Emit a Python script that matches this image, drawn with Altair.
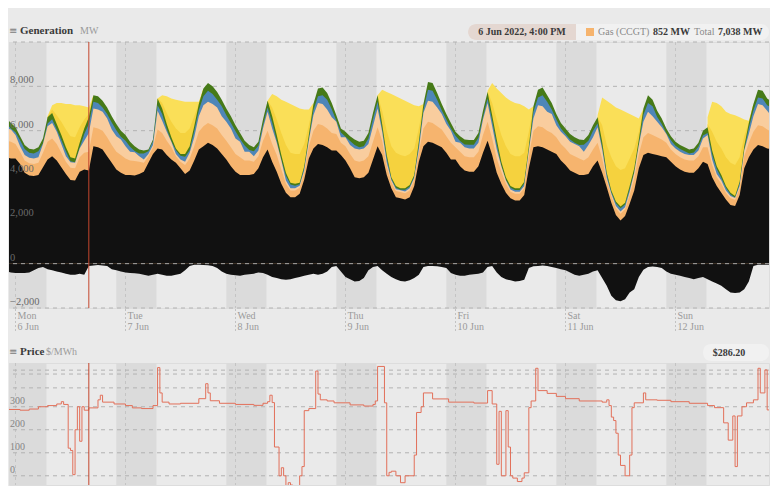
import altair as alt
import pandas as pd

SERIF = "Liberation Serif"
BG = "#EAEAEA"
NIGHT = "#DBDBDB"
GRID = "#B2B2B2"
VGRID = "#C4C4C4"
HOVER = "#C4472E"
PRICE = "#E2705A"

COL_COAL = "#111111"
COL_CCGT = "#F6B46E"
COL_OCGT = "#F9CD9E"
COL_HYDRO = "#4E86B8"
COL_WIND = "#467A18"
COL_SOLAR_U = "#F5D23E"
COL_SOLAR_R = "#FADF58"

BASE = pd.Timestamp("2022-06-06 00:00")          # Mon 6 Jun 2022, midnight
HOURS = list(range(-3, 166))                      # hourly, Sun 21:00 .. Sun 12 Jun 21:00

# ---- generation: top edge of the coal layer (MW) ----
coal_top = [
    4850, 4800, 4750,
    4750, 4500, 4100, 3980, 3950, 4000, 4350, 4700, 4850, 4650, 4350, 4050, 3780, 3750, 4150, 4250, 4200, 5300, 5250, 5150, 4850, 4550, 4250, 4100,
    4000, 4000, 3980, 4050, 4150, 4550, 4950, 5200, 5150, 4900, 4700, 4550, 4300, 4050, 4200, 4650, 5150, 5300, 5450, 5350, 5200, 4950, 4700, 4400,
    4150, 4000, 4000, 4000, 4050, 4300, 4800, 5150, 4600, 4150, 3600, 3200, 3000, 3000, 3150, 3800, 4750, 5200, 5400, 5350, 5250, 5100, 5100, 4900,
    4650, 4300, 3900, 3850, 3900, 4100, 4700, 5300, 4900, 4000, 3400, 3000, 2950, 2900, 3000, 3500, 4600, 5300, 5500, 5450, 5350, 5250, 5000, 4700,
    4700, 4400, 4200, 4150, 4150, 4400, 5000, 5550, 4900, 4100, 3600, 3200, 2950, 2850, 2850, 3100, 4300, 5250, 5300, 5250, 5150, 5050, 4950, 4650,
    4450, 4200, 4100, 4000, 4000, 4050, 4400, 4650, 4100, 3450, 2750, 2200, 1950, 2150, 2700, 3300, 4300, 4900, 5000, 4950, 4900, 4850, 4800, 4600,
    4400, 4250, 4150, 4100, 4100, 4300, 4600, 4500, 3900, 3500, 3200, 2900, 2650, 2600, 3100, 4300, 4800, 5150, 5350, 5300, 5200, 5150,
]
# ---- top edge of all non-solar generation (top of wind layer, MW) ----
nonsolar_top = [
    6750, 6550, 6350,
    6150, 5750, 5350, 5180, 5150, 5250, 5650, 6600, 6800, 6300, 5800, 5250, 4800, 4750, 5450, 6100, 6600, 7600, 7550, 7350, 7050, 6650, 6300, 6000,
    5800, 5500, 5300, 5150, 5100, 5150, 5600, 7450, 7000, 6300, 5700, 5200, 4950, 4950, 5300, 6200, 7200, 7900, 8150, 8000, 7750, 7400, 7000, 6650,
    6250, 5900, 5550, 5350, 5250, 5500, 6500, 7350, 6650, 5800, 4900, 4100, 3650, 3600, 3650, 4400, 5800, 7200, 7900, 7950, 7700, 7250, 6700, 6100,
    5950, 5750, 5600, 5500, 5550, 5900, 6800, 7600, 6300, 4900, 3900, 3500, 3400, 3400, 3550, 4000, 5500, 7200, 8200, 8150, 7700, 7200, 6750, 6350,
    5950, 5750, 5600, 5580, 5580, 5900, 6900, 7750, 6700, 5600, 4600, 3900, 3500, 3400, 3400, 3700, 5300, 7100, 7850, 7950, 7600, 7250, 6750, 6350,
    6100, 5850, 5700, 5600, 5580, 5800, 6250, 6600, 5500, 4100, 3300, 2800, 2580, 2750, 3500, 4300, 5600, 7000, 7600, 7400, 6900, 6550, 6100, 5750,
    5500, 5350, 5250, 5150, 5200, 5450, 6000, 6150, 5100, 4400, 4000, 3500, 3200, 3050, 3700, 5300, 6350, 7200, 7850, 7800, 7450, 7300,
]
# ---- layer thicknesses (MW) ----
ccgt_mw = [
    800, 750, 750,
    650, 550, 550, 550, 550, 550, 650, 800, 800, 750, 650, 550, 550, 550, 650, 750, 850, 850, 850, 850, 850, 800, 800, 800,
    750, 650, 650, 550, 400, 300, 300, 850, 750, 650, 550, 300, 300, 400, 550, 650, 800, 900, 900, 900, 900, 850, 850, 850,
    800, 800, 650, 650, 550, 550, 750, 850, 800, 750, 650, 400, 300, 300, 280, 300, 550, 800, 900, 900, 850, 800, 750, 550,
    650, 650, 750, 750, 750, 750, 800, 850, 650, 400, 280, 280, 280, 280, 300, 280, 400, 800, 900, 900, 850, 800, 750, 750,
    550, 650, 650, 650, 650, 650, 800, 850, 750, 650, 550, 400, 300, 300, 300, 300, 550, 750, 900, 900, 850, 850, 750, 750,
    750, 750, 750, 750, 650, 750, 750, 800, 650, 300, 300, 300, 300, 300, 400, 550, 650, 800, 900, 850, 800, 750, 650, 550,
    550, 550, 550, 550, 550, 550, 650, 750, 550, 400, 400, 300, 300, 280, 300, 550, 650, 800, 900, 900, 850, 800,
]
ocgt_mw = [
    700, 550, 550,
    400, 250, 250, 250, 250, 250, 400, 700, 700, 550, 400, 250, 250, 250, 400, 550, 850, 850, 850, 850, 850, 700, 700, 700,
    550, 400, 400, 250, 150, 100, 100, 850, 550, 400, 250, 100, 100, 150, 250, 400, 700, 950, 950, 950, 950, 850, 850, 850,
    700, 700, 400, 400, 250, 250, 550, 850, 700, 550, 400, 150, 100, 100, 80, 100, 250, 700, 950, 950, 850, 700, 550, 250,
    400, 400, 550, 550, 550, 550, 700, 850, 400, 150, 80, 80, 80, 80, 100, 80, 150, 700, 950, 950, 850, 700, 550, 550,
    250, 400, 400, 400, 400, 400, 700, 850, 550, 400, 250, 150, 100, 100, 100, 100, 250, 550, 950, 950, 850, 850, 550, 550,
    550, 550, 550, 550, 400, 550, 550, 700, 400, 100, 100, 100, 100, 100, 150, 250, 400, 700, 950, 850, 700, 550, 400, 250,
    250, 250, 250, 250, 250, 250, 400, 550, 250, 150, 150, 100, 100, 80, 100, 250, 400, 700, 950, 950, 850, 700,
]
wind_mw = [
    280, 250, 250,
    220, 180, 180, 180, 180, 180, 220, 280, 280, 250, 220, 180, 180, 180, 220, 250, 300, 300, 300, 300, 300, 280, 280, 280,
    250, 220, 220, 180, 130, 80, 80, 300, 250, 220, 180, 80, 80, 130, 180, 220, 280, 350, 350, 350, 350, 300, 300, 300,
    280, 280, 220, 220, 180, 180, 250, 300, 280, 250, 220, 130, 80, 80, 70, 80, 180, 280, 350, 350, 300, 280, 250, 180,
    220, 220, 250, 250, 250, 250, 280, 300, 220, 130, 70, 70, 70, 70, 80, 70, 130, 280, 350, 350, 300, 280, 250, 250,
    180, 220, 220, 220, 220, 220, 280, 300, 250, 220, 180, 130, 80, 80, 80, 80, 180, 250, 350, 350, 300, 300, 250, 250,
    250, 250, 250, 250, 220, 250, 250, 280, 220, 80, 80, 80, 80, 80, 130, 180, 220, 280, 350, 300, 280, 250, 220, 180,
    180, 180, 180, 180, 180, 180, 220, 250, 180, 130, 130, 80, 80, 70, 80, 180, 220, 280, 350, 350, 300, 280,
]
# ---- negative side (exports, MW) ----
exports_mw = [
    -300, -350, -400,
    -420, -420, -420, -400, -300, -200, -150, -250, -300, -350, -400, -450, -500, -500, -450, -500, -100, -80, -60, -80, -100, -250, -300, -350,
    -400, -420, -430, -450, -500, -550, -500, -450, -500, -550, -550, -500, -450, -300, -100, -50, -50, -60, -70, -100, -200, -350, -450, -500,
    -520, -550, -500, -480, -450, -400, -420, -500, -600, -650, -700, -720, -700, -650, -600, -550, -500, -450, -500, -450, -350, -150, -100, -350,
    -600, -700, -800, -780, -650, -300, -150, -100, -300, -450, -600, -700, -780, -800, -750, -650, -500, -150, -100, -100, -120, -150, -200, -420,
    -500, -550, -550, -500, -480, -450, -400, -150, -100, -400, -600, -700, -750, -800, -780, -720, -200, -120, -100, -80, -100, -150, -200, -250,
    -300, -400, -500, -550, -500, -450, -350, -300, -650, -1000, -1450, -1650, -1700, -1600, -1300, -1150, -600, -270, -150, -130, -150, -200, -350, -450,
    -500, -550, -600, -650, -700, -650, -600, -700, -800, -900, -1000, -1150, -1300, -1320, -1300, -1150, -800, -100, -50, -50, -50, -50,
]
# ---- solar, daytime hours 07:00 .. 17:00 of each day ----
solar_days = ["Mon", "Tue", "Wed", "Thu", "Fri", "Sat", "Sun"]
solar_first_hour = 7
solar_total_top = [
    [6650, 7150, 7250, 7250, 7200, 7200, 7150, 7150, 7100, 7040, 7600],
    [7450, 7600, 7550, 7450, 7400, 7350, 7300, 7300, 7300, 7300, 7900],
    [7350, 7650, 7550, 7400, 7300, 7200, 7100, 7000, 6950, 6950, 7250],
    [7600, 7850, 7750, 7650, 7550, 7450, 7350, 7250, 7150, 7100, 7200],
    [7800, 8150, 7900, 7700, 7500, 7350, 7250, 7200, 7100, 6950, 7100],
    [6700, 7500, 7350, 7200, 7050, 6950, 6850, 6750, 6650, 6550, 7000],
    [6600, 7300, 7250, 7100, 6850, 6750, 6700, 6600, 6500, 6450, 7200],
]
solar_utility_mw = [
    [20, 150, 400, 600, 800, 950, 950, 700, 400, 150, 0],
    [0, 250, 500, 700, 900, 950, 950, 800, 450, 40, 0],
    [0, 400, 700, 1000, 1250, 1350, 1350, 1300, 1000, 450, 20],
    [0, 600, 1100, 1400, 1500, 1500, 1450, 1400, 1200, 600, 0],
    [20, 550, 900, 1200, 1400, 1450, 1450, 1450, 1300, 650, 0],
    [40, 750, 1250, 1500, 1600, 1650, 1550, 1250, 900, 350, 0],
    [150, 850, 1100, 1200, 1300, 1350, 1400, 1100, 450, 40, 0],
]
# ---- price ($/MWh), step changes: hours from Mon 00:00 ----
price_hours = [
    -3.5, -1.5, 1.0, 3.0, 5.0, 7.0, 9.0, 10.0, 10.5, 11.5, 12.0, 12.5, 13.0, 13.5, 14.0, 14.5, 15.0, 16.0, 18.0, 18.5, 19.0, 21.5,
    24.0, 25.5, 27.5, 30.0, 31.0, 31.5, 32.0, 33.5, 36.0, 40.0, 41.5, 42.0, 42.5, 44.5,
    48.0, 52.0, 54.0, 55.0, 55.5, 56.0, 56.5, 57.5, 58.0, 58.5, 59.0, 59.5, 60.0, 60.5, 61.5, 62.0, 62.5, 63.0, 64.0, 65.5, 66.0, 66.5, 68.0, 69.5,
    73.0, 76.0, 78.0, 78.5, 79.0, 80.5, 81.0, 81.5, 82.0, 83.0, 84.0, 85.0, 87.0, 87.5, 88.5, 89.0, 91.0, 94.5,
    100.0, 103.0, 104.0, 105.0, 105.5, 106.0, 107.0, 107.5, 108.0, 108.5, 109.5, 110.5, 111.0, 112.0, 112.5, 113.5, 114.0, 116.0, 118.0,
    120.0, 123.0, 128.0, 129.0, 129.5, 130.0, 130.5, 131.0, 131.5, 132.0, 133.0, 134.0, 134.5, 135.0, 137.0, 137.5, 140.0, 143.0,
    147.0, 151.0, 152.5, 154.5, 155.5, 156.5, 157.0, 157.5, 158.5, 159.5, 161.0, 162.0, 162.5, 163.5, 164.0, 165.0,
]
price_values = [
    300, 288, 285, 290, 300, 305, 312, 322, 310, 120, 110, 5, 200, 300, 150, 300, 285, 295, 330, 350, 320, 312,
    305, 295, 292, 305, 470, 360, 320, 312, 315, 335, 400, 360, 326, 315,
    310, 306, 315, 322, 350, 318, 125, 0, 35, 0, -55, -30, -40, -55, -60, 0, 40, 283, 292, 455, 355, 330, 325, 317,
    308, 303, 310, 325, 475, 317, 0, 15, 20, 0, -30, 0, 90, 275, 300, 360, 334, 320,
    316, 370, 312, 50, 280, 0, 283, 125, 0, -10, -25, -10, 13, 296, 325, 467, 370, 358, 345,
    335, 325, 320, 330, 305, 255, 240, 185, 90, 45, 0, 90, 296, 317, 360, 330, 328, 322,
    315, 305, 296, 230, 155, 260, 40, 260, 300, 317, 330, 467, 360, 460, 286.2, 286.2,
]
# night shading and day ticks
night_start = ["2022-06-05 22:00", "2022-06-06 22:00", "2022-06-07 22:00", "2022-06-08 22:00",
               "2022-06-09 22:00", "2022-06-10 22:00", "2022-06-11 22:00"]
night_end = ["2022-06-06 06:45", "2022-06-07 06:45", "2022-06-08 06:45", "2022-06-09 06:45",
             "2022-06-10 06:45", "2022-06-11 06:45", "2022-06-12 06:45"]
day_starts = ["2022-06-06", "2022-06-07", "2022-06-08", "2022-06-09", "2022-06-10", "2022-06-11", "2022-06-12"]
gen_grid_values = [-2000, 0, 2000, 4000, 6000, 8000, 10000]
gen_label_values = [-2000, 0, 2000, 4000, 6000, 8000]
price_grid_values = [0, 100, 200, 300, 382, 442, 459]
price_label_values = [0, 100, 200, 300]
hover_time = "2022-06-06 16:00"

for name, arr in [("coal", coal_top), ("ns", nonsolar_top), ("ccgt", ccgt_mw), ("ocgt", ocgt_mw),
                  ("wind", wind_mw), ("exp", exports_mw)]:
    assert len(arr) == len(HOURS), (name, len(arr))
assert len(price_hours) == len(price_values)


def at(h):
    return BASE + pd.Timedelta(hours=h)


gen = pd.DataFrame({"time": [at(h) for h in HOURS], "coal_top": coal_top, "nonsolar_top": nonsolar_top,
                    "ccgt": ccgt_mw, "ocgt": ocgt_mw, "wind": wind_mw, "exports": exports_mw})
gen["ccgt_top"] = gen["coal_top"] + gen["ccgt"]
gen["ocgt_top"] = gen["ccgt_top"] + gen["ocgt"]
gen["hydro_top"] = gen["nonsolar_top"] - gen["wind"]

rows = []
for d, day in enumerate(solar_days):
    for k, (tot, util) in enumerate(zip(solar_total_top[d], solar_utility_mw[d])):
        h = 24 * d + solar_first_hour + k
        rows.append({"time": at(h), "day": day, "total_top": tot,
                     "utility_top": nonsolar_top[h + 3] + util})
solar = pd.DataFrame(rows)

price = pd.DataFrame({"time": [at(h) for h in price_hours], "price": price_values})
nights = pd.DataFrame({"start": pd.to_datetime(night_start), "end": pd.to_datetime(night_end)})
days = pd.DataFrame({"d": pd.to_datetime(day_starts)})
hover = pd.DataFrame({"t": [pd.Timestamp(hover_time)]})

xscale = alt.Scale(domain=[alt.DateTime(year=2022, month=6, date=5, hours=22, minutes=35),
                           alt.DateTime(year=2022, month=6, date=12, hours=20, minutes=24)])
ygen = alt.Scale(domain=[-2000, 10000], nice=False, zero=False)
yprice = alt.Scale(domain=[-40, 490], nice=False, zero=False)


def xenc(field):
    return alt.X(f"{field}:T", scale=xscale, axis=None)


def night_layer():
    return alt.Chart(nights).mark_rect(color=NIGHT, clip=True).encode(x=xenc("start"), x2="end:T")


def day_rules():
    return alt.Chart(days).mark_rule(color=VGRID, strokeDash=[3, 3], strokeWidth=1).encode(x=xenc("d"))


def hgrid(values, yscale, color=GRID):
    return alt.Chart(pd.DataFrame({"v": values})).mark_rule(color=color, strokeDash=[4, 4], strokeWidth=1).encode(
        y=alt.Y("v:Q", scale=yscale, axis=None))


def area(data, field, color, detail=False):
    enc = {"x": xenc("time"),
           "y": alt.Y(f"{field}:Q", scale=ygen, axis=None, stack=None),
           "y2": alt.datum(0)}
    if detail:
        enc["detail"] = "day:N"
    return alt.Chart(data).mark_area(color=color, clip=True, interpolate="linear").encode(**enc)


def txt(text, x, y, size=10, weight="normal", color="#3A3A3A", align="left", font=SERIF):
    return alt.Chart(pd.DataFrame({"t": [text]})).mark_text(
        align=align, baseline="middle", fontSize=size, fontWeight=weight, color=color, font=font
    ).encode(x=alt.value(x), y=alt.value(y), text="t:N")


def box(x, x2, y, y2, color, radius=0):
    return alt.Chart(pd.DataFrame({"a": [0]})).mark_rect(color=color, cornerRadius=radius).encode(
        x=alt.value(x), x2=alt.value(x2), y=alt.value(y), y2=alt.value(y2))


def hover_rule():
    return alt.Chart(hover).mark_rule(color=HOVER, strokeWidth=1).encode(x=xenc("t"))


def ylabels(values, yscale, color, size, fmt):
    return alt.Chart(pd.DataFrame({"v": values})).mark_text(
        align="left", baseline="alphabetic", dy=-3, font=SERIF, fontSize=size, color=color
    ).encode(y=alt.Y("v:Q", scale=yscale, axis=None), x=alt.value(1), text=alt.Text("v:Q", format=fmt))


# day labels under the generation panel (two lines) and their dashed ticks
day_ticks = alt.Chart(days).mark_rule(color="#C2C2C2", strokeDash=[2, 2], strokeWidth=1).encode(
    x=xenc("d"), y=alt.value(267), y2=alt.value(290))
day_names = alt.Chart(days).mark_text(align="left", baseline="middle", dx=2, font=SERIF, fontSize=10,
                                      color="#9A9A9A").encode(
    x=xenc("d"), y=alt.value(274), text=alt.Text("d:T", format="%a"))
day_dates = alt.Chart(days).mark_text(align="left", baseline="middle", dx=2, font=SERIF, fontSize=10,
                                      color="#9A9A9A").encode(
    x=xenc("d"), y=alt.value(285), text=alt.Text("d:T", format="%-d %b"))

bound = alt.Chart(pd.DataFrame({"a": [0]})).mark_rule(opacity=0, strokeWidth=1).encode(
    x=alt.value(0), y=alt.value(-33.5), y2=alt.value(0))

gen_chart = alt.layer(
    night_layer(),
    day_rules(),
    hgrid([v for v in gen_grid_values if v != 0], ygen),
    area(solar, "total_top", COL_SOLAR_R, detail=True),
    area(solar, "utility_top", COL_SOLAR_U, detail=True),
    area(gen, "nonsolar_top", COL_WIND),
    area(gen, "hydro_top", COL_HYDRO),
    area(gen, "ocgt_top", COL_OCGT),
    area(gen, "ccgt_top", COL_CCGT),
    area(gen, "coal_top", COL_COAL),
    area(gen, "exports", COL_COAL),
    hgrid([0], ygen, color="#A8A8A8"),
    hover_rule(),
    ylabels(gen_label_values, ygen, "#6A6A6A", 10.5, ","),
    day_ticks,
    day_names,
    day_dates,
    bound,
    txt("\u2261", 0, -11, size=10, color="#7A7A7A", font="DejaVu Sans"),
    txt("Generation", 11, -11, size=11, weight="bold"),
    txt("MW", 71, -11, size=10, color="#9A9A9A"),
    box(459, 760, -18, -2, "#F1F1F1", radius=8),
    box(459, 567, -18, -2, "#E4D7D1", radius=8),
    box(553, 567, -18, -2, "#E4D7D1"),
    txt("6 Jun 2022, 4:00 PM", 513, -10, size=10, weight="bold", align="center"),
    box(577, 585, -14, -6, COL_CCGT),
    txt("Gas (CCGT)", 589, -10, size=10, color="#8A8A8A"),
    txt("852 MW", 644, -10, size=10, weight="bold"),
    txt("Total", 685, -10, size=10, color="#8A8A8A"),
    txt("7,038 MW", 709, -10, size=10, weight="bold"),
).properties(width=760, height=266)

price_chart = alt.layer(
    night_layer(),
    day_rules(),
    hgrid(price_grid_values, yprice),
    alt.Chart(price).mark_line(interpolate="step-after", color=PRICE, strokeWidth=1.0, clip=True).encode(
        x=xenc("time"),
        y=alt.Y("price:Q", scale=yprice, axis=None)),
    hover_rule(),
    ylabels(price_label_values, yprice, "#858585", 10, "d"),
    txt("\u2261", 0, -11, size=10, color="#7A7A7A", font="DejaVu Sans"),
    txt("Price", 11, -11, size=11, weight="bold"),
    txt("$/MWh", 37, -11, size=10, color="#9A9A9A"),
    box(694, 760, -19, -2, "#F1F1F1", radius=8),
    txt("$286.20", 720, -10, size=10, weight="bold", align="center"),
).properties(width=760, height=122)

chart = alt.vconcat(gen_chart, price_chart, spacing=55, bounds="flush").properties(
    padding=0, background=BG
).configure_view(stroke=None).configure(font=SERIF)

chart.save("out.html", embed_options={"renderer": "svg", "actions": False})
